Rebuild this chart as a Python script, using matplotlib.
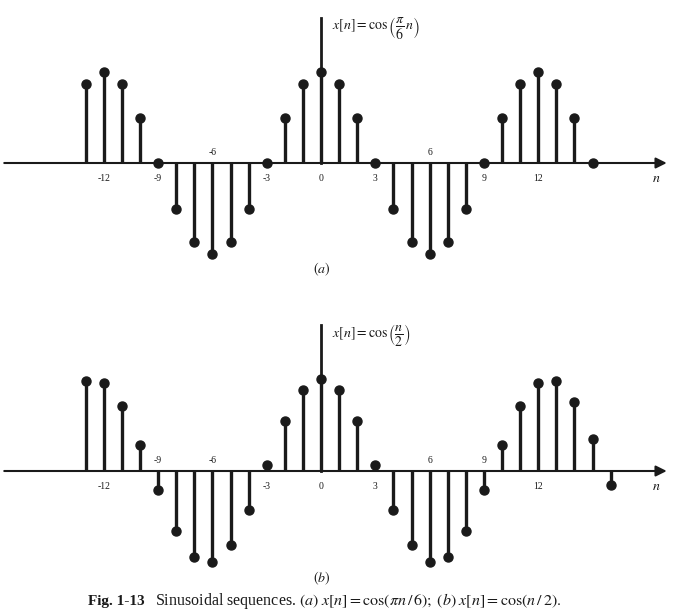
import matplotlib
matplotlib.use("Agg")
import matplotlib.pyplot as plt

plt.rcParams['font.family'] = ['Liberation Serif', 'DejaVu Serif']
plt.rcParams['mathtext.fontset'] = 'stix'

# values
n_a = list(range(-13, 16))
x_a = [0.87, 1.0, 0.87, 0.5, 0.0, -0.5, -0.87, -1.0, -0.87, -0.5, 0.0, 0.5, 0.87, 1.0,
       0.87, 0.5, 0.0, -0.5, -0.87, -1.0, -0.87, -0.5, 0.0, 0.5, 0.87, 1.0, 0.87, 0.5, 0.0]

n_b = list(range(-13, 17))
x_b = [0.98, 0.96, 0.71, 0.28, -0.21, -0.65, -0.94, -0.99, -0.80, -0.42, 0.07, 0.54, 0.88, 1.0,
       0.88, 0.54, 0.07, -0.42, -0.80, -0.99, -0.94, -0.65, -0.21, 0.28, 0.71, 0.96, 0.98, 0.75,
       0.35, -0.15]

ticks = [-12, -9, -6, -3, 0, 3, 6, 9, 12]
above_a = [-6, 6]
above_b = [-9, -6, 6, 9]

ink = '#1a1a1a'
W, H = 696, 614
fig = plt.figure(figsize=(W / 100, H / 100), dpi=100)

def px_axes(top, bottom):
    return fig.add_axes([0, 1 - bottom / H, 1, (bottom - top) / H])

def draw(ax, n, x, axis_px, top, bottom, unit, above, title, label):
    x0, dx = 321, 18.1
    ax.set_xlim(-x0 / dx, (W - x0) / dx)
    ax.set_ylim(-(bottom - axis_px) / unit, (axis_px - top) / unit)
    ax.axis('off')
    ml, sl, bl = ax.stem(n, x, basefmt=' ')
    plt.setp(sl, color=ink, linewidth=2.4)
    plt.setp(ml, color=ink, markersize=6.5)
    ax.annotate('', xy=(19.1, 0), xytext=(-17.5, 0),
                arrowprops=dict(arrowstyle='-|>', lw=1.5, color=ink, mutation_scale=16,
                                shrinkA=0, shrinkB=0))
    ax.plot([0, 0], [0, 1.59], color=ink, lw=2.0)
    for t in ticks:
        if t in above:
            ax.text(t, 0.11, str(t), ha='center', va='center', fontsize=7, color=ink)
        else:
            ax.text(t, -0.17, str(t), ha='center', va='center', fontsize=7, color=ink)
    ax.text(18.5, -0.17, '$n$', ha='center', va='center', fontsize=10, color=ink)
    ax.text(0.6, 1.48, title, ha='left', va='center', fontsize=10, color=ink)
    ax.text(0.05, -1.17, label, ha='center', va='center', fontsize=10, color=ink)

ax1 = px_axes(0, 290)
draw(ax1, n_a, x_a, 163, 0, 290, 91, above_a,
     r'$x[n]=\cos\left(\dfrac{\pi}{6}\,n\right)$', '$(a)$')

ax2 = px_axes(300, 590)
draw(ax2, n_b, x_b, 471, 300, 590, 92, above_b,
     r'$x[n]=\cos\left(\dfrac{n}{2}\right)$', '$(b)$')

fig.text(88 / W, 1 - 601 / H, 'Fig. 1-13', fontsize=11, fontweight='bold',
         ha='left', va='center', color=ink)
fig.text(155 / W, 1 - 601 / H,
         r'Sinusoidal sequences. $(a)\;x[n]=\cos(\pi n\,/\,6);\;(b)\;x[n]=\cos(n\,/\,2).$',
         fontsize=11.5, ha='left', va='center', color=ink)

fig.savefig('out.png', dpi=100)
